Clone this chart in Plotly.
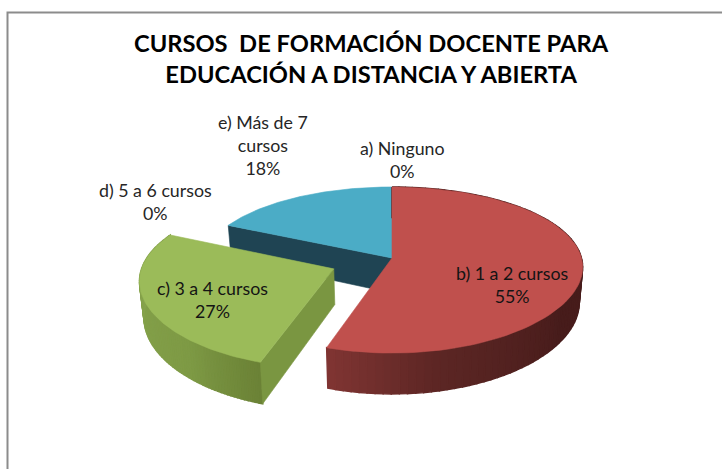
import numpy as np
import plotly.graph_objects as go

# Data
categories = ["a) Ninguno", "b) 1 a 2 cursos", "c) 3 a 4 cursos", "d) 5 a 6 cursos", "e) Más de 7<br>cursos"]
values = [0, 55, 27, 0, 18]
title_lines = ["CURSOS  DE FORMACIÓN DOCENTE PARA", "EDUCACIÓN A DISTANCIA Y ABIERTA"]
top_colors = ["#4F81BD", "#C0504D", "#9BBB59", "#8064A2", "#4BACC6"]
pulls = [0, 0, 0.33, 0, 0]

# Label centres in pixels of the 722x469 page
label_x = [402, 512, 212, 155, 263]
label_y = [159, 284, 299, 201, 145]
label_on_dark = [False, True, True, False, False]

# Pseudo-3D projection settings
CX, CY, RX, RY, K, KX, DEPTH, SHRINK = 392, 258, 189.5, 81.3, 0.1446, 0.11, 35, 0.982


def project(u, v, low=False):
    v = np.asarray(v)
    s = 1 / (1 - K * v)
    x = RX * np.asarray(u) / (1 - KX * v)
    y = CY + RY * v * s
    if low:
        return CX + x * SHRINK, y + DEPTH * s
    return CX + x, y


def mix(a, b, t):
    ca = [int(a[i:i + 2], 16) for i in (1, 3, 5)]
    cb = [int(b[i:i + 2], 16) for i in (1, 3, 5)]
    c = [round(p + (q - p) * t) for p, q in zip(ca, cb)]
    return f"rgb({c[0]},{c[1]},{c[2]})"


fig = go.Figure()


def poly(xs, ys, color, width=0.6):
    fig.add_trace(go.Scatter(
        x=list(xs) + [xs[0]], y=list(ys) + [ys[0]], mode="lines", fill="toself",
        fillcolor=color, line=dict(color=color, width=width),
        hoverinfo="skip", showlegend=False))


# Slice geometry from the values
edges = np.cumsum([0] + values) / sum(values) * 2 * np.pi
slices = {}
for i, val in enumerate(values):
    if val == 0:
        continue
    t0, t1 = edges[i], edges[i + 1]
    mid = (t0 + t1) / 2
    ox, oy = np.sin(mid) * pulls[i], -np.cos(mid) * pulls[i]
    th = np.linspace(t0, t1, 90)
    slices[i] = (th, ox, oy, np.sin(th) + ox, -np.cos(th) + oy)


def top(i):
    th, ox, oy, u, v = slices[i]
    ax, ay = project(ox, oy)
    x, y = project(u, v)
    poly([ax] + list(x), [ay] + list(y), top_colors[i])


def radial_wall(i, end, color):
    th, ox, oy, u, v = slices[i]
    ax, ay = project(ox, oy)
    bx, by = project(ox, oy, True)
    ex, ey = project(u[end], v[end])
    fx, fy = project(u[end], v[end], True)
    poly([ax, ex, fx, bx], [ay, ey, fy, by], color)


def outer_wall(i, stops):
    th, ox, oy, u, v = slices[i]
    x, y = project(u, v)
    xb, yb = project(u, v, True)
    n = len(th)
    for j in range(n - 1):
        f = j / (n - 2)
        for (f0, c0), (f1, c1) in zip(stops[:-1], stops[1:]):
            if f0 <= f <= f1:
                col = mix(c0, c1, (f - f0) / (f1 - f0))
                break
        poly([x[j], x[j + 1], xb[j + 1], xb[j]], [y[j], y[j + 1], yb[j + 1], yb[j]], col, 1.4)


# Back slice (blue), then red, then the pulled green slice
radial_wall(4, 0, "#1F4453")
top(4)
outer_wall(1, [(0, "#471C1B"), (0.62, "#471C1B"), (0.85, "#5C2624"), (1, "#7F3432")])
top(1)
outer_wall(2, [(0, "#6B8236"), (0.25, "#7E9A45"), (0.75, "#86A34C"), (1, "#7F9B46")])
radial_wall(2, 0, "#7A9641")
top(2)

annotations = []
for i, name in enumerate(categories):
    annotations.append(dict(
        x=label_x[i], y=label_y[i], xref="x", yref="y", showarrow=False,
        text=f"{name}<br>{values[i]}%", align="center",
        font=dict(family="Lato, Carlito, sans-serif", size=17.8,
                  color="#141414" if label_on_dark[i] else "#262626")))
annotations.append(dict(
    x=371, y=58, xref="x", yref="y", showarrow=False, align="center",
    text="<b>" + "<br>".join(title_lines) + "</b>",
    font=dict(family="Lato, Carlito, sans-serif", size=23.7, color="#000000")))

fig.update_layout(
    width=722, height=469, margin=dict(l=0, r=0, t=0, b=0),
    paper_bgcolor="white", plot_bgcolor="white", showlegend=False,
    xaxis=dict(range=[0, 722], visible=False, fixedrange=True),
    yaxis=dict(range=[469, 0], visible=False, fixedrange=True),
    annotations=annotations,
    shapes=[dict(type="path", xref="x", yref="y", path="M 7.5 469 L 7.5 12.5 L 722 12.5",
                 line=dict(color="#8C8C8C", width=2))])

fig.write_html("out.html", config={"displayModeBar": False},
               post_script="document.body.style.margin='0';document.documentElement.style.overflow='hidden';")
